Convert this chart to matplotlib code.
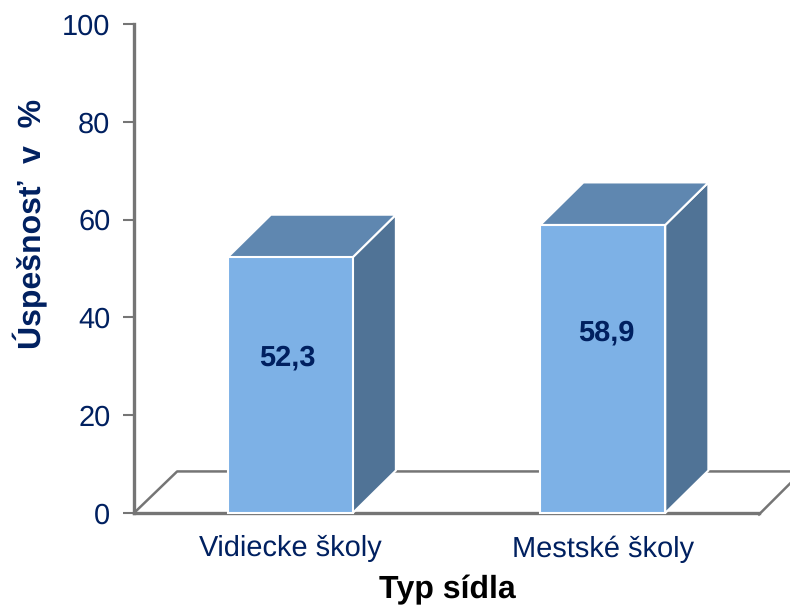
# 3D looking bar chart, bars are drawn by hand as polygons
import matplotlib
matplotlib.use("Agg")
import matplotlib.pyplot as plt
from matplotlib.patches import Polygon

categories = ["Vidiecke školy", "Mestské školy"]
values = [52.3, 58.9]
value_labels = ["52,3", "58,9"]
y_ticks = [0, 20, 40, 60, 80, 100]

navy = "#002060"
grey = "#757575"
front_col = "#7DB1E6"
top_col = "#5F87B0"
side_col = "#507396"

bar_w = 0.4
# 3d offset in data units
dx = 0.138
dy = 8.7
# labels are not quite in the middle of the bars
label_dx = [-0.01, 0.01]
label_dy = [5.6, 7.4]

plt.rcParams["font.family"] = ["Liberation Sans", "DejaVu Sans"]
plt.rcParams["text.hinting"] = "no_hinting"
plt.rcParams["text.hinting_factor"] = 1

fig = plt.figure(figsize=(7.9, 6.07), dpi=100)
ax = fig.add_axes([134 / 790, 94 / 607, 625 / 790, 489 / 607])
ax.set_xlim(-0.5, 1.5)
ax.set_ylim(0, 100)

# floor of the chart
floor_x = [-0.5, -0.5 + dx, 1.5 + dx + 0.04]
floor_y = [0, dy - 0.2, dy - 0.2]
ax.plot(floor_x, floor_y, color=grey, lw=1.8, clip_on=False, zorder=1)
ax.plot([1.5, 1.5 + dx], [-0.3, dy - 0.2], color=grey, lw=1.8, clip_on=False, zorder=1)

for i in range(len(values)):
    v = values[i]
    x0 = i - bar_w / 2
    x1 = i + bar_w / 2
    side = Polygon([(x1, 0), (x1 + dx, dy), (x1 + dx, v + dy), (x1, v)],
                   facecolor=side_col, edgecolor="white", lw=1.5, zorder=3, clip_on=False)
    top = Polygon([(x0, v), (x0 + dx, v + dy), (x1 + dx, v + dy), (x1, v)],
                  facecolor=top_col, edgecolor="white", lw=1.5, zorder=3, clip_on=False)
    front = Polygon([(x0, 0), (x0, v), (x1, v), (x1, 0)],
                    facecolor=front_col, edgecolor="white", lw=1.5, zorder=4, clip_on=False)
    ax.add_patch(side)
    ax.add_patch(top)
    ax.add_patch(front)
    ax.text(i + label_dx[i], v / 2 + label_dy[i], value_labels[i], ha="center", va="center",
            color=navy, fontsize=21, fontweight="bold", zorder=5)

for s in ["top", "right"]:
    ax.spines[s].set_visible(False)
for s in ["left", "bottom"]:
    ax.spines[s].set_color(grey)
    ax.spines[s].set_linewidth(2.4)
    ax.spines[s].set_zorder(2)

ax.set_xticks(range(len(categories)))
ax.set_xticklabels(categories)
ax.set_yticks(y_ticks)
ax.tick_params(axis="x", length=0, pad=16, labelsize=21.2, labelcolor=navy)
ax.tick_params(axis="y", length=8, width=1.5, color=grey, pad=9, labelsize=21, labelcolor=navy)

fig.text(447 / 790, 1 - 590 / 607, "Typ sídla", ha="center", va="center",
         fontsize=22.8, fontweight="bold", color="black")
fig.text(31 / 790, 1 - 224 / 607, "Úspešnosť  v  %", rotation=90, ha="center", va="center",
         fontsize=23, fontweight="bold", color=navy)

fig.savefig("out.png", dpi=100)
